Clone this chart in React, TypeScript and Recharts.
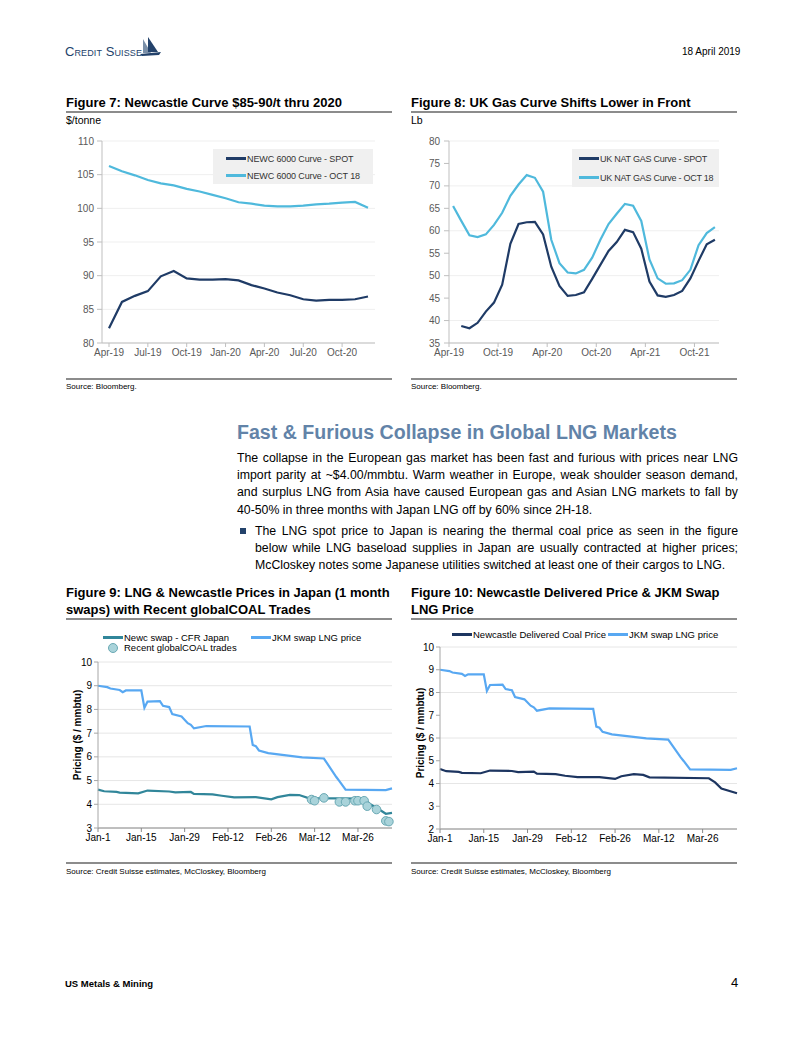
import React from "react";
import {
  CartesianGrid,
  ComposedChart,
  Line,
  LineChart,
  Scatter,
  XAxis,
  YAxis,
} from "recharts";

const SANS = "'Liberation Sans', Arial, Helvetica, sans-serif";
const NAVY = "#1f3b66";
const CYAN = "#4fb9dc";
const TEAL = "#31869a";
const SKY = "#58a8f2";
const COAL_NAVY = "#1d3560";

// Figure 7: Newcastle curve, monthly
const NEWC_MONTHS = [
  "Apr-19", "May-19", "Jun-19", "Jul-19", "Aug-19", "Sep-19", "Oct-19",
  "Nov-19", "Dec-19", "Jan-20", "Feb-20", "Mar-20", "Apr-20", "May-20",
  "Jun-20", "Jul-20", "Aug-20", "Sep-20", "Oct-20", "Nov-20", "Dec-20",
];
const NEWC_SPOT = [
  82.2, 86.1, 87.0, 87.7, 89.9, 90.7, 89.6, 89.4, 89.4, 89.5, 89.3, 88.6,
  88.1, 87.5, 87.1, 86.5, 86.3, 86.4, 86.4, 86.5, 86.9,
];
const NEWC_OCT18 = [
  106.3, 105.5, 104.9, 104.2, 103.7, 103.4, 102.9, 102.5, 102.0, 101.5,
  100.9, 100.7, 100.4, 100.3, 100.3, 100.4, 100.6, 100.7, 100.85, 100.95,
  100.1,
];
const NEWC_TICKS = [80, 85, 90, 95, 100, 105, 110];

// Figure 8: UK gas curve, monthly (points sit mid-month)
const UK_MONTHS = [
  "Apr-19", "May-19", "Jun-19", "Jul-19", "Aug-19", "Sep-19", "Oct-19",
  "Nov-19", "Dec-19", "Jan-20", "Feb-20", "Mar-20", "Apr-20", "May-20",
  "Jun-20", "Jul-20", "Aug-20", "Sep-20", "Oct-20", "Nov-20", "Dec-20",
  "Jan-21", "Feb-21", "Mar-21", "Apr-21", "May-21", "Jun-21", "Jul-21",
  "Aug-21", "Sep-21", "Oct-21", "Nov-21", "Dec-21",
];
const UK_SPOT = [
  null, 38.8, 38.3, 39.5, 42.0, 44.0, 48.0, 57.1, 61.5, 61.9, 62.0, 59.2,
  52.0, 47.7, 45.5, 45.7, 46.3, 49.3, 52.4, 55.5, 57.5, 60.2, 59.7, 56.0,
  48.7, 45.6, 45.3, 45.7, 46.6, 49.4, 53.3, 57.0, 58.0,
];
const UK_OCT18 = [
  65.5, 62.2, 59.0, 58.6, 59.2, 61.3, 64.0, 67.8, 70.3, 72.4, 71.8, 68.7,
  58.0, 52.8, 50.7, 50.5, 51.3, 54.0, 58.0, 61.5, 63.8, 66.0, 65.6, 62.2,
  53.6, 49.4, 48.2, 48.3, 49.0, 51.3, 56.8, 59.5, 60.8,
];
const UK_TICKS = [35, 40, 45, 50, 55, 60, 65, 70, 75, 80];
const UK_LABEL_IDX = [0, 6, 12, 18, 24, 30];

// Figures 9 & 10: daily prices, x = days since Jan-1
const DAY_TICKS = [0, 14, 28, 42, 56, 70, 84];
const DAY_LABELS = ["Jan-1", "Jan-15", "Jan-29", "Feb-12", "Feb-26", "Mar-12", "Mar-26"];

const JKM_DAYS = [
  0, 3, 4, 7, 8, 9, 14, 15, 16, 20, 21, 23, 24, 27, 29, 30, 31, 35, 49, 50,
  51, 52, 55, 66, 73, 77, 78, 80, 93, 95,
];
const JKM_PRICE = [
  9.0, 8.94, 8.88, 8.82, 8.73, 8.8, 8.8, 8.07, 8.33, 8.35, 8.15, 8.1, 7.8,
  7.7, 7.42, 7.35, 7.2, 7.3, 7.28, 6.5, 6.45, 6.27, 6.16, 5.98, 5.93, 5.15,
  4.98, 4.62, 4.6, 4.67,
];

const NEWC_SWAP_DAYS = [
  0, 2, 6, 7, 13, 16, 23, 25, 30, 31, 37, 40, 44, 51, 56, 58, 62, 65, 68, 86,
  88, 91, 93, 95,
];
const NEWC_SWAP_PRICE = [
  4.62, 4.55, 4.52, 4.49, 4.46, 4.58, 4.54, 4.5, 4.52, 4.44, 4.42, 4.36,
  4.29, 4.3, 4.21, 4.3, 4.4, 4.39, 4.26, 4.24, 4.0, 3.77, 3.6, 3.64,
];

const TRADE_DAYS = [69, 70, 73, 78, 80, 83, 84, 86, 87, 90, 93, 94];
const TRADE_PRICE = [4.2, 4.15, 4.27, 4.1, 4.1, 4.15, 4.15, 4.15, 3.92, 3.78, 3.3, 3.27];

const COAL_DAYS = [
  0, 2, 6, 7, 13, 16, 23, 25, 30, 31, 37, 40, 44, 51, 56, 58, 62, 65, 67, 86,
  88, 90, 95,
];
const COAL_PRICE = [
  4.64, 4.54, 4.51, 4.47, 4.45, 4.57, 4.55, 4.5, 4.52, 4.43, 4.41, 4.34,
  4.28, 4.28, 4.2, 4.32, 4.41, 4.38, 4.27, 4.23, 4.05, 3.78, 3.57,
];

const PRICE_TICKS_9 = [3, 4, 5, 6, 7, 8, 9, 10];
const PRICE_TICKS_10 = [2, 3, 4, 5, 6, 7, 8, 9, 10];

const pairs = (days: number[], vals: number[]) => days.map((d, i) => ({ d, v: vals[i] }));

function Abs({ x, y, children, style }: any) {
  return <div style={{ position: "absolute", left: x, top: y, ...style }}>{children}</div>;
}

function Rule({ x, y, w }: { x: number; y: number; w: number }) {
  return <Abs x={x} y={y} style={{ width: w, height: 1.5, background: "#8c8c8c" }} />;
}

function Title({ x, y, lines }: { x: number; y: number; lines: string[] }) {
  return (
    <Abs x={x} y={y} style={{ fontWeight: "bold", fontSize: 13, lineHeight: "17px", color: "#000", whiteSpace: "nowrap" }}>
      {lines.map((l) => (
        <div key={l}>{l}</div>
      ))}
    </Abs>
  );
}

function LegendRow({ color, label, marker }: { color: string; label: string; marker?: boolean }) {
  return (
    <div style={{ display: "flex", alignItems: "center", height: 17, whiteSpace: "nowrap" }}>
      {marker ? (
        <div style={{ width: 20, display: "flex", justifyContent: "center" }}>
          <div style={{ width: 8, height: 8, borderRadius: 5, background: "#a9d3da", border: "1px solid #6aa9b4" }} />
        </div>
      ) : (
        <div style={{ width: 20, height: 2.5, background: color }} />
      )}
      <span style={{ marginLeft: 1 }}>{label}</span>
    </div>
  );
}

function Figure7() {
  const data = NEWC_MONTHS.map((m, i) => ({ m, spot: NEWC_SPOT[i], oct: NEWC_OCT18[i] }));
  return (
    <Abs x={60} y={130}>
      <LineChart width={325} height={248} data={data} margin={{ top: 11, right: 10, bottom: 5, left: 0 }}>
        <CartesianGrid vertical={false} stroke="#efefef" />
        <XAxis
          dataKey="m"
          interval={2}
          padding={{ left: 7, right: 7 }}
          stroke="#bfbfbf"
          tickSize={4}
          tick={{ fill: "#595959", fontSize: 10 }}
        />
        <YAxis
          width={42}
          domain={[80, 110]}
          ticks={NEWC_TICKS}
          stroke="#bfbfbf"
          tickSize={5}
          tickMargin={3}
          tick={{ fill: "#595959", fontSize: 10 }}
        />
        <Line dataKey="oct" stroke={CYAN} strokeWidth={2.2} dot={false} isAnimationActive={false} />
        <Line dataKey="spot" stroke={NAVY} strokeWidth={2.2} dot={false} isAnimationActive={false} />
      </LineChart>
      <Abs x={153} y={19} style={{ width: 160, height: 35, background: "#f0f0f0", padding: "1px 0 0 13px", boxSizing: "border-box", fontSize: 9, letterSpacing: -0.12, color: "#333" }}>
        <LegendRow color={NAVY} label="NEWC 6000 Curve - SPOT" />
        <LegendRow color={CYAN} label="NEWC 6000 Curve - OCT 18" />
      </Abs>
    </Abs>
  );
}

function Figure8() {
  const oct = UK_OCT18.map((v, i) => ({ x: i + 0.5, v }));
  const spot = UK_SPOT.map((v, i) => ({ x: i + 0.5, v })).filter((p) => p.v !== null);
  return (
    <Abs x={400} y={130}>
      <LineChart width={329} height={248} margin={{ top: 11, right: 10, bottom: 5, left: 0 }}>
        <CartesianGrid vertical={false} stroke="#efefef" />
        <XAxis
          dataKey="x"
          type="number"
          domain={[0, 33]}
          ticks={UK_LABEL_IDX}
          tickFormatter={(i: number) => UK_MONTHS[i]}
          stroke="#bfbfbf"
          tickSize={4}
          tick={{ fill: "#595959", fontSize: 10 }}
        />
        <YAxis
          width={49}
          domain={[35, 80]}
          ticks={UK_TICKS}
          stroke="#bfbfbf"
          tickSize={5}
          tickMargin={4}
          tick={{ fill: "#595959", fontSize: 10 }}
        />
        <Line data={oct} dataKey="v" stroke={CYAN} strokeWidth={2.2} dot={false} isAnimationActive={false} />
        <Line data={spot} dataKey="v" stroke={NAVY} strokeWidth={2.2} dot={false} isAnimationActive={false} />
      </LineChart>
      <Abs x={172} y={19} style={{ width: 147, height: 38, background: "#f0f0f0", padding: "1px 0 0 7px", boxSizing: "border-box", fontSize: 9, letterSpacing: -0.25, color: "#333" }}>
        <LegendRow color={NAVY} label="UK NAT GAS Curve - SPOT" />
        <div style={{ height: 2 }} />
        <LegendRow color={CYAN} label="UK NAT GAS Curve - OCT 18" />
      </Abs>
    </Abs>
  );
}

const dayAxis = (
  <XAxis
    dataKey="d"
    type="number"
    domain={[0, 95]}
    ticks={DAY_TICKS}
    tickFormatter={(d: number) => DAY_LABELS[DAY_TICKS.indexOf(d)]}
    stroke="#8a8a8a"
    tickSize={4}
    tick={{ fill: "#000", fontSize: 10 }}
  />
);

function Figure9() {
  return (
    <Abs x={60} y={621}>
      <ComposedChart width={337} height={237} margin={{ top: 41, right: 5, bottom: 0, left: 0 }}>
        <CartesianGrid vertical={false} stroke="#e6e6e6" />
        {dayAxis}
        <YAxis
          width={38}
          domain={[3, 10]}
          ticks={PRICE_TICKS_9}
          stroke="#a6a6a6"
          tickSize={4}
          tickMargin={2}
          tick={{ fill: "#000", fontSize: 10 }}
        />
        <Line data={pairs(JKM_DAYS, JKM_PRICE)} dataKey="v" stroke={SKY} strokeWidth={2.2} dot={false} isAnimationActive={false} />
        <Line data={pairs(NEWC_SWAP_DAYS, NEWC_SWAP_PRICE)} dataKey="v" stroke={TEAL} strokeWidth={2.2} dot={false} isAnimationActive={false} />
        <Scatter
          data={pairs(TRADE_DAYS, TRADE_PRICE)}
          dataKey="v"
          isAnimationActive={false}
          shape={(p: any) => <circle cx={p.cx} cy={p.cy} r={4.3} fill="#a9d3da" stroke="#6aa9b4" strokeWidth={1} />}
        />
      </ComposedChart>
      <Abs x={43} y={8} style={{ fontSize: 9.5, color: "#000" }}>
        <div style={{ display: "flex" }}>
          <div style={{ width: 148 }}>
            <LegendRow color={TEAL} label="Newc swap - CFR Japan" />
          </div>
          <LegendRow color={SKY} label="JKM swap LNG price" />
        </div>
        <div style={{ marginTop: -7 }}>
          <LegendRow color={TEAL} marker label="Recent globalCOAL trades" />
        </div>
      </Abs>
      <Abs x={17} y={114} style={{ transform: "translate(-50%, -50%) rotate(-90deg)", fontSize: 10, fontWeight: "bold", whiteSpace: "nowrap" }}>
        Pricing ($ / mmbtu)
      </Abs>
    </Abs>
  );
}

function Figure10() {
  return (
    <Abs x={400} y={620}>
      <ComposedChart width={342} height={239} margin={{ top: 27, right: 5, bottom: 0, left: 0 }}>
        <CartesianGrid vertical={false} stroke="#e6e6e6" />
        {dayAxis}
        <YAxis
          width={40}
          domain={[2, 10]}
          ticks={PRICE_TICKS_10}
          stroke="#a6a6a6"
          tickSize={4}
          tickMargin={2}
          tick={{ fill: "#000", fontSize: 10 }}
        />
        <Line data={pairs(JKM_DAYS, JKM_PRICE)} dataKey="v" stroke={SKY} strokeWidth={2.2} dot={false} isAnimationActive={false} />
        <Line data={pairs(COAL_DAYS, COAL_PRICE)} dataKey="v" stroke={COAL_NAVY} strokeWidth={2.2} dot={false} isAnimationActive={false} />
      </ComposedChart>
      <Abs x={52} y={6} style={{ fontSize: 9.5, color: "#000" }}>
        <div style={{ display: "flex" }}>
          <div style={{ width: 156 }}>
            <LegendRow color={COAL_NAVY} label="Newcastle Delivered Coal Price" />
          </div>
          <LegendRow color={SKY} label="JKM swap LNG price" />
        </div>
      </Abs>
      <Abs x={20} y={113} style={{ transform: "translate(-50%, -50%) rotate(-90deg)", fontSize: 10, fontWeight: "bold", whiteSpace: "nowrap" }}>
        Pricing ($ / mmbtu)
      </Abs>
    </Abs>
  );
}

const PARA_LINES = [
  "The collapse in the European gas market has been fast and furious with prices near LNG",
  "import parity at ~$4.00/mmbtu. Warm weather in Europe, weak shoulder season demand,",
  "and surplus LNG from Asia have caused European gas and Asian LNG markets to fall by",
  "40-50% in three months with Japan LNG off by 60% since 2H-18.",
];
const BULLET_LINES = [
  "The LNG spot price to Japan is nearing the thermal coal price as seen in the figure",
  "below while LNG baseload supplies in Japan are usually contracted at higher prices;",
  "McCloskey notes some Japanese utilities switched at least one of their cargos to LNG.",
];

function JustifiedLines({ lines }: { lines: string[] }) {
  return (
    <>
      {lines.map((l, i) => (
        <div
          key={i}
          style={{
            textAlign: "justify",
            textAlignLast: i === lines.length - 1 ? "left" : "justify",
            whiteSpace: "nowrap",
            height: 17.2,
          }}
        >
          {l}
        </div>
      ))}
    </>
  );
}

export default function App() {
  return (
    <div style={{ position: "absolute", left: 0, top: 0, width: 802, height: 1037, background: "#fff", fontFamily: SANS, overflow: "hidden" }}>
      {/* header */}
      <Abs x={65} y={44} style={{ fontSize: 13, fontVariant: "small-caps", color: "#23426b", letterSpacing: 0.1, lineHeight: "16px" }}>
        Credit Suisse
      </Abs>
      <svg style={{ position: "absolute", left: 140, top: 37 }} width={22} height={20}>
        <polygon points="3,2 11,16 3,16" fill="#7a8fa8" />
        <polygon points="8,0 18,15 8,15" fill="#23426b" />
        <polygon points="0,17 21,15 19,18 2,19" fill="#23426b" />
      </svg>
      <Abs x={682} y={46} style={{ fontSize: 10 }}>18 April 2019</Abs>

      {/* figures 7 & 8 */}
      <Title x={66} y={94} lines={["Figure 7: Newcastle Curve $85-90/t thru 2020"]} />
      <Rule x={66} y={111} w={326} />
      <Abs x={66} y={114} style={{ fontSize: 10.5 }}>$/tonne</Abs>
      <Figure7 />
      <Rule x={66} y={378} w={326} />
      <Abs x={66} y={382} style={{ fontSize: 8 }}>Source: Bloomberg.</Abs>

      <Title x={411} y={94} lines={["Figure 8: UK Gas Curve Shifts Lower in Front"]} />
      <Rule x={411} y={111} w={326} />
      <Abs x={411} y={114} style={{ fontSize: 10.5 }}>Lb</Abs>
      <Figure8 />
      <Rule x={411} y={378} w={326} />
      <Abs x={411} y={382} style={{ fontSize: 8 }}>Source: Bloomberg.</Abs>

      {/* text */}
      <Abs x={237} y={419} style={{ fontSize: 19.6, fontWeight: "bold", color: "#6283a8", whiteSpace: "nowrap", lineHeight: "26px" }}>
        Fast &amp; Furious Collapse in Global LNG Markets
      </Abs>
      <Abs x={237} y={450} style={{ width: 501, fontSize: 12.3, lineHeight: "17.2px", color: "#000" }}>
        <JustifiedLines lines={PARA_LINES} />
      </Abs>
      <Abs x={240} y={528} style={{ width: 6, height: 6, background: "#23426b" }} />
      <Abs x={255} y={523} style={{ width: 483, fontSize: 12.3, lineHeight: "17.2px", color: "#000" }}>
        <JustifiedLines lines={BULLET_LINES} />
      </Abs>

      {/* figures 9 & 10 */}
      <Title x={66} y={584} lines={["Figure 9: LNG & Newcastle Prices in Japan (1 month", "swaps) with Recent globalCOAL Trades"]} />
      <Rule x={66} y={618} w={326} />
      <Figure9 />
      <Rule x={66} y={862} w={326} />
      <Abs x={66} y={867} style={{ fontSize: 8 }}>Source: Credit Suisse estimates, McCloskey, Bloomberg</Abs>

      <Title x={411} y={584} lines={["Figure 10: Newcastle Delivered Price & JKM Swap", "LNG Price"]} />
      <Rule x={411} y={618} w={326} />
      <Figure10 />
      <Rule x={411} y={862} w={326} />
      <Abs x={411} y={867} style={{ fontSize: 8 }}>Source: Credit Suisse estimates, McCloskey, Bloomberg</Abs>

      {/* footer */}
      <Abs x={65} y={978} style={{ fontSize: 9.5, fontWeight: "bold" }}>US Metals &amp; Mining</Abs>
      <Abs x={731} y={975} style={{ fontSize: 13 }}>4</Abs>
    </div>
  );
}
